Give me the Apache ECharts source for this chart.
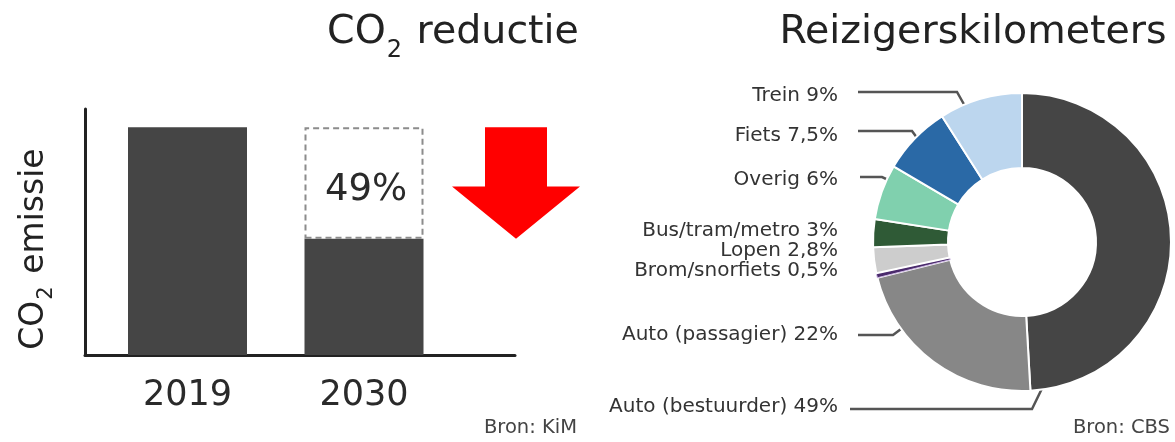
<!DOCTYPE html>
<html>
<head>
<meta charset="utf-8">
<script src="https://cdn.jsdelivr.net/npm/echarts/dist/echarts.min.js"></script>
<style>
  html, body { margin: 0; padding: 0; background: #fff; }
  #chart { width: 1175px; height: 442px; }
</style>
</head>
<body>
<div id="chart"></div>
<script>
// CO2 bar chart
const years = ['2019', '2030'];
const emission = [100, 51];
const reduction = [null, 49];

// reizigerskilometers per vervoerwijze (%)
const modes = ['Auto (bestuurder)', 'Auto (passagier)', 'Brom/snorfiets', 'Lopen',
  'Bus/tram/metro', 'Overig', 'Fiets', 'Trein'];
const shares = [49, 22, 0.5, 2.8, 3, 6, 7.5, 9];
const modeColors = ['#454545', '#878787', '#4a2a6c', '#cdcdcd', '#2f5a36', '#80d0ae', '#2a69a6', '#bcd6ee'];

const FONT = 'DejaVu Sans';

// label placement next to the donut (right edge of text at x=838)
const pieLabels = [
  { y: 407, line: [[1050, 372], [1032, 409], [850, 409]] },
  { y: 335, line: [[913, 320], [893, 335], [858, 335]] },
  { y: 271, line: null },
  { y: 251, line: null },
  { y: 231, line: null },
  { y: 180, line: [[897, 184], [882, 177], [860, 177]] },
  { y: 136, line: [[923, 146], [912, 131], [858, 131]] },
  { y: 96, line: [[970, 115], [957, 92], [858, 92]] }
];

const chart = echarts.init(document.getElementById('chart'));

chart.setOption({
  animation: false,
  grid: [
    { left: 85, top: 109, width: 430, height: 246 },
    { left: 99.25, top: 109, width: 353, height: 246 }
  ],
  xAxis: [
    {
      gridIndex: 0, type: 'category', data: [''],
      axisLine: { show: true, lineStyle: { color: '#222', width: 3 } },
      axisTick: { show: false }, axisLabel: { show: false }, splitLine: { show: false }
    },
    {
      gridIndex: 1, type: 'category', data: years,
      axisLine: { show: false }, axisTick: { show: false }, splitLine: { show: false },
      axisLabel: { fontFamily: FONT, fontSize: 35, color: '#2a2a2a', margin: 23 }
    }
  ],
  yAxis: [
    {
      gridIndex: 0, type: 'value', min: 0, max: 1,
      axisLine: { show: true, lineStyle: { color: '#222', width: 3 } },
      axisTick: { show: false }, axisLabel: { show: false }, splitLine: { show: false }
    },
    { gridIndex: 1, type: 'value', min: 0, max: 108, show: false }
  ],
  series: [
    {
      type: 'bar', xAxisIndex: 1, yAxisIndex: 1, stack: 'co2',
      data: emission, barWidth: 119, silent: true,
      itemStyle: { color: '#454545' }
    },
    {
      type: 'bar', xAxisIndex: 1, yAxisIndex: 1, stack: 'co2',
      data: reduction, barWidth: 119, silent: true,
      itemStyle: { color: 'rgba(0,0,0,0)', borderColor: '#8c8c8c', borderWidth: 2, borderType: [6, 4] },
      label: {
        show: true, position: 'inside', formatter: '{c}%', offset: [2, 7],
        fontFamily: FONT, fontSize: 37, color: '#2a2a2a', textBorderWidth: 0
      }
    },
    {
      type: 'pie',
      center: [1022, 242],
      radius: [74, 149],
      startAngle: 90,
      clockwise: true,
      avoidLabelOverlap: false,
      silent: true,
      itemStyle: { borderColor: '#fff', borderWidth: 2 },
      label: {
        show: true, position: 'outside',
        formatter: p => p.name + ' ' + String(p.value).replace('.', ',') + '%',
        fontFamily: FONT, fontSize: 20, color: '#333'
      },
      labelLine: { show: true, length: 10, length2: 10, lineStyle: { color: '#555', width: 2.5 } },
      labelLayout: function (params) {
        const l = pieLabels[params.dataIndex];
        const out = { x: 838, y: l.y, align: 'right', verticalAlign: 'middle' };
        if (l.line) out.labelLinePoints = l.line;
        return out;
      },
      data: modes.map((m, i) => ({
        name: m,
        value: shares[i],
        itemStyle: i === 2
          ? { color: modeColors[i], borderColor: '#cdb8e3', borderWidth: 1 }
          : { color: modeColors[i] },
        labelLine: { show: !!pieLabels[i].line }
      }))
    }
  ]
});

// red arrow from the 2019 level down to the 2030 level
const yTop = chart.convertToPixel({ yAxisIndex: 1 }, emission[0]);
const yTip = chart.convertToPixel({ yAxisIndex: 1 }, emission[1]);
const ax = 516;
const yHead = yTop + (yTip - yTop) * 0.53;

function sub(main, rest, size, subSize, shift) {
  return {
    text: '{a|' + main + '}{s|2}{a|' + rest + '}',
    rich: {
      a: { fontFamily: FONT, fontSize: size, fill: '#222', color: '#222' },
      s: { fontFamily: FONT, fontSize: subSize, fill: '#222', color: '#222', padding: [shift * 2, 2, 0, 1] }
    }
  };
}

chart.setOption({
  graphic: [
    {
      type: 'text', x: 453, y: 33,
      style: Object.assign(sub('CO', ' reductie', 39.5, 24, 18), { align: 'center', verticalAlign: 'middle' })
    },
    {
      type: 'text', x: 973, y: 33,
      style: { text: 'Reizigerskilometers', fontFamily: FONT, fontSize: 39.5, fill: '#222', align: 'center', verticalAlign: 'middle' }
    },
    {
      type: 'text', x: 34, y: 249, rotation: Math.PI / 2,
      style: Object.assign(sub('CO', ' emissie', 33, 21, 13), { align: 'center', verticalAlign: 'middle' })
    },
    {
      type: 'text', x: 577, y: 428,
      style: { text: 'Bron: KiM', fontFamily: FONT, fontSize: 19.5, fill: '#444', align: 'right', verticalAlign: 'middle' }
    },
    {
      type: 'text', x: 1170, y: 428,
      style: { text: 'Bron: CBS', fontFamily: FONT, fontSize: 19.5, fill: '#444', align: 'right', verticalAlign: 'middle' }
    },
    {
      type: 'polygon',
      shape: {
        points: [
          [ax - 31, yTop], [ax + 31, yTop], [ax + 31, yHead], [ax + 64, yHead],
          [ax, yTip], [ax - 64, yHead], [ax - 31, yHead]
        ]
      },
      style: { fill: '#ff0000' }
    }
  ]
});
</script>
</body>
</html>
